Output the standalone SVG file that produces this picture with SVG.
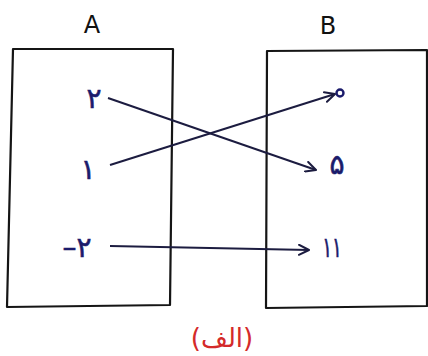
<svg xmlns="http://www.w3.org/2000/svg" width="428" height="356" viewBox="0 0 428 356">
<style>
.box{fill:none;stroke:#151515;stroke-width:2.2;stroke-linejoin:round}
.title{font-family:"DejaVu Sans",sans-serif;font-size:24px;fill:#111;text-anchor:middle}
.num{font-family:"DejaVu Sans",sans-serif;font-size:28px;fill:#1b1b6b;text-anchor:middle;stroke:#1b1b6b;stroke-width:0.6}
.cap{font-family:"DejaVu Sans",sans-serif;font-size:26px;fill:#d42a2a;text-anchor:middle}
.edge{fill:none;stroke:#1c1c40;stroke-width:2}
</style>
<defs>
<marker id="arr" viewBox="0 0 12 12" refX="11" refY="6" markerWidth="12" markerHeight="12" markerUnits="userSpaceOnUse" orient="auto">
<path d="M1,1 L11,6 L1,11" fill="none" stroke="#1c1c40" stroke-width="2" stroke-linecap="round" stroke-linejoin="round"/>
</marker>
</defs>
<g id="setA">
<polygon class="box" points="13,49 173,49 170,305 7,307"/>
<text class="title" x="92" y="33">A</text>
<text class="num" x="94" y="108">۲</text>
<text class="num" x="88" y="179">۱</text>
<text class="num" x="77" y="257">–۲</text>
</g>
<g id="setB">
<polygon class="box" points="267,51 427,50 427,306 266,308"/>
<text class="title" x="328" y="34">B</text>
<circle cx="340" cy="93" r="3.5" fill="none" stroke="#1b1b6b" stroke-width="2.4"/>
<text class="num" x="337" y="174">۵</text>
<text class="num" transform="translate(332,257) scale(0.65,1)">۱۱</text>
</g>
<g id="connectors">
<line class="edge" x1="108" y1="98" x2="316" y2="170" marker-end="url(#arr)"/>
<line class="edge" x1="110" y1="165" x2="335" y2="94" marker-end="url(#arr)"/>
<line class="edge" x1="110" y1="246" x2="309" y2="250" marker-end="url(#arr)"/>
</g>
<g id="caption">
<text class="cap" x="222" y="347">(الف)</text>
</g>
</svg>
